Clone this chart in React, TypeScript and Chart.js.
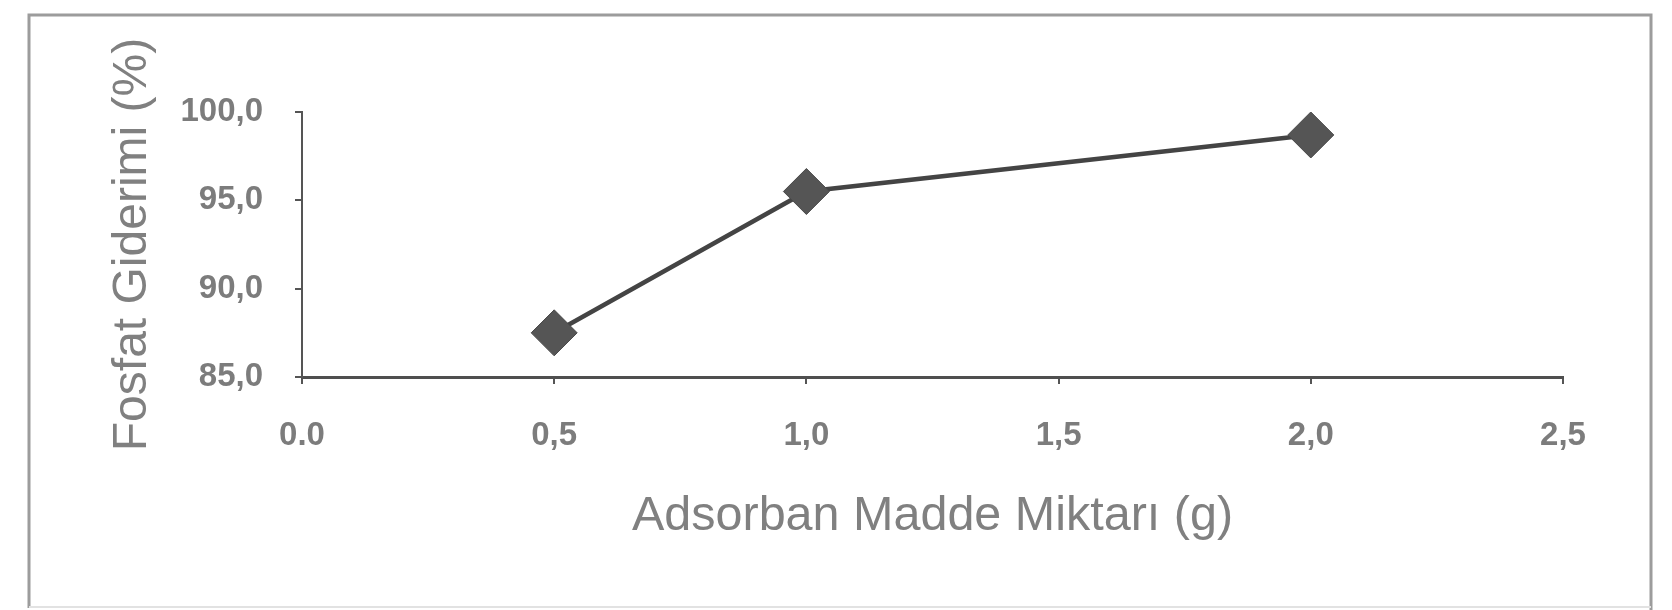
import React, { useEffect, useRef } from "react";
import { Chart, registerables } from "chart.js";

Chart.register(...registerables);

const xValues: number[] = [0.5, 1.0, 2.0];
const yValues: number[] = [87.5, 95.5, 98.7];
const xTickLabels: string[] = ["0.0", "0,5", "1,0", "1,5", "2,0", "2,5"];
const yTickLabels: string[] = ["85,0", "90,0", "95,0", "100,0"];
const xTitle = "Adsorban Madde Miktarı (g)";
const yTitle = "Fosfat Giderimi (%)";

const framePlugin = {
  id: "frame",
  beforeDraw(chart: any) {
    const ctx = chart.ctx;
    ctx.save();
    ctx.fillStyle = "#ffffff";
    ctx.fillRect(0, 0, chart.width, chart.height);
    ctx.strokeStyle = "#9c9c9c";
    ctx.lineWidth = 3;
    ctx.beginPath();
    ctx.moveTo(29, 608);
    ctx.lineTo(29, 15);
    ctx.lineTo(1651, 15);
    ctx.lineTo(1651, 610);
    ctx.stroke();
    ctx.strokeStyle = "#e2e2e2";
    ctx.lineWidth = 2;
    ctx.beginPath();
    ctx.moveTo(29, 607);
    ctx.lineTo(1651, 607);
    ctx.stroke();
    ctx.restore();
  },
};

export default function App() {
  const ref = useRef<HTMLCanvasElement | null>(null);

  useEffect(() => {
    document.body.style.margin = "0";
    if (!ref.current) return;
    const chart = new Chart(ref.current, {
      type: "line",
      data: {
        datasets: [
          {
            data: xValues.map((x, i) => ({ x, y: yValues[i] })),
            borderColor: "#444444",
            borderWidth: 4.5,
            pointStyle: "rectRot",
            pointRadius: 23,
            pointBackgroundColor: "#555555",
            pointBorderColor: "#4a4a4a",
            pointBorderWidth: 1,
            tension: 0,
          },
        ],
      },
      options: {
        animation: false,
        responsive: false,
        devicePixelRatio: 1,
        layout: { padding: { left: 0, top: 112, right: 109, bottom: 0 } },
        plugins: {
          legend: { display: false },
          tooltip: { enabled: false },
        },
        scales: {
          x: {
            type: "linear",
            min: 0,
            max: 2.5,
            afterFit: (s: any) => {
              s.height = 233;
            },
            ticks: {
              stepSize: 0.5,
              padding: 32,
              color: "#7c7c7c",
              font: { family: "'Liberation Sans', Arial, sans-serif", size: 33, weight: "bold" },
              callback: (_v: any, i: number) => xTickLabels[i],
            },
            grid: {
              drawOnChartArea: false,
              drawTicks: true,
              tickLength: 7,
              color: "#555555",
              lineWidth: 2,
            },
            border: { display: true, color: "#4f4f4f", width: 3 },
            title: {
              display: true,
              text: xTitle,
              color: "#808080",
              font: { family: "'Liberation Sans', Arial, sans-serif", size: 48.5 },
              padding: { top: 0, bottom: 64 },
            },
          },
          y: {
            type: "linear",
            min: 85,
            max: 100,
            afterFit: (s: any) => {
              s.width = 302;
            },
            ticks: {
              stepSize: 5,
              padding: 32,
              color: "#7c7c7c",
              font: { family: "'Liberation Sans', Arial, sans-serif", size: 33, weight: "bold" },
              callback: (_v: any, i: number) => yTickLabels[i],
            },
            grid: {
              drawOnChartArea: false,
              drawTicks: true,
              tickLength: 7,
              color: "#555555",
              lineWidth: 2,
            },
            border: { display: true, color: "#555555", width: 2 },
            title: {
              display: true,
              text: yTitle,
              color: "#808080",
              font: { family: "'Liberation Sans', Arial, sans-serif", size: 48 },
              padding: { top: 104, bottom: 0 },
            },
          },
        },
      },
      plugins: [framePlugin],
    });
    return () => chart.destroy();
  }, []);

  return (
    <div style={{ width: 1672, height: 610 }}>
      <canvas ref={ref} width={1672} height={610} style={{ display: "block" }} />
    </div>
  );
}
